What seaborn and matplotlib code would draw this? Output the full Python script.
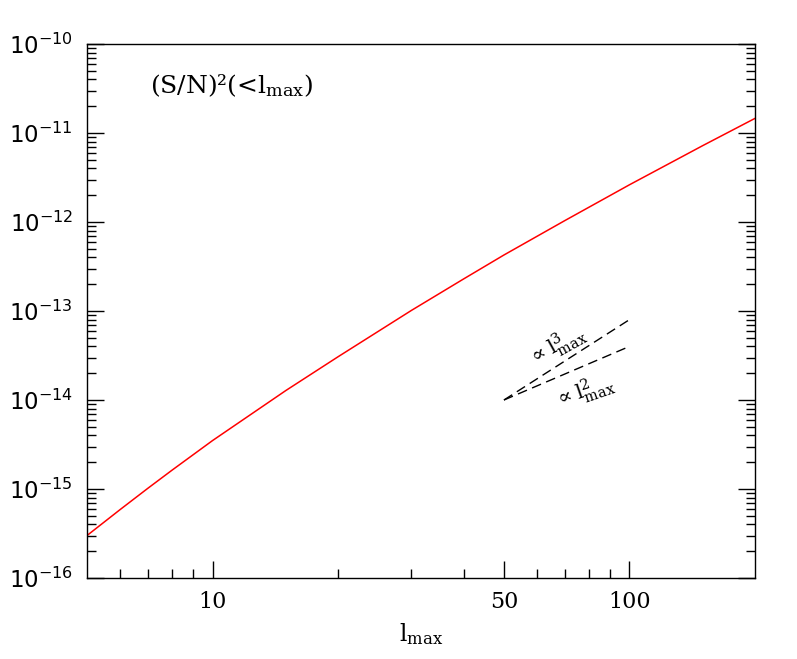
import numpy as np
import pandas as pd
import matplotlib
matplotlib.use('Agg')
import matplotlib.pyplot as plt
import seaborn as sns
from matplotlib.ticker import FixedLocator, FixedFormatter, NullFormatter, LogLocator

# ---- data ----
ell = [5, 6, 7, 8, 10, 15, 20, 30, 40, 50, 70, 100, 150, 200]
snr2 = [3.0e-16, 5.86e-16, 1.02e-15, 1.63e-15, 3.50e-15, 1.28e-14, 3.06e-14,
        1.016e-13, 2.29e-13, 4.26e-13, 1.038e-12, 2.62e-12, 7.23e-12, 1.46e-11]
ref_ell = [50, 100]
ref_l3 = [1e-14, 8e-14]
ref_l2 = [1e-14, 4e-14]
xticks = [10, 50, 100]
xtick_labels = ['10', '50', '100']
xminor = [6, 7, 8, 9, 20, 30, 40, 60, 70, 80, 90]
yticks = [1e-16, 1e-15, 1e-14, 1e-13, 1e-12, 1e-11, 1e-10]
ytick_labels = [r'$10^{-16}$', r'$10^{-15}$', r'$10^{-14}$', r'$10^{-13}$',
                r'$10^{-12}$', r'$10^{-11}$', r'$10^{-10}$']

sns.set_style('ticks')
plt.rcParams['font.family'] = ['DejaVu Serif']
plt.rcParams['axes.linewidth'] = 1.0
plt.rcParams['text.color'] = 'black'
plt.rcParams['axes.labelcolor'] = 'black'
plt.rcParams['xtick.color'] = 'black'
plt.rcParams['ytick.color'] = 'black'
plt.rcParams['axes.edgecolor'] = 'black'

fig = plt.figure(figsize=(7.97, 6.59), dpi=100)
ax = fig.add_axes([87/797, 81/659, 668/797, 534/659])

df = pd.DataFrame({'ell': ell, 'snr2': snr2})
sns.lineplot(data=df, x='ell', y='snr2', ax=ax, color='#ff0000', lw=1.1)

df3 = pd.DataFrame({'ell': ref_ell, 'v': ref_l3})
df2 = pd.DataFrame({'ell': ref_ell, 'v': ref_l2})
sns.lineplot(data=df3, x='ell', y='v', ax=ax, color='black', lw=1.0)
sns.lineplot(data=df2, x='ell', y='v', ax=ax, color='black', lw=1.0)
for ln in ax.lines[1:]:
    ln.set_linestyle((0, (7, 4)))

ax.set_xscale('log')
ax.set_yscale('log')
ax.set_xlim(5, 200)
ax.set_ylim(1e-16, 1e-10)

ax.xaxis.set_major_locator(FixedLocator(xticks))
ax.xaxis.set_major_formatter(FixedFormatter(xtick_labels))
ax.xaxis.set_minor_locator(FixedLocator(xminor))
ax.xaxis.set_minor_formatter(NullFormatter())
ax.yaxis.set_major_locator(FixedLocator(yticks))
ax.yaxis.set_major_formatter(FixedFormatter(ytick_labels))
ax.yaxis.set_minor_locator(LogLocator(base=10, subs=np.arange(2, 10), numticks=20))
ax.yaxis.set_minor_formatter(NullFormatter())

ax.tick_params(axis='both', which='both', direction='in', color='black', width=1.0,
               labelcolor='black')
ax.tick_params(axis='x', which='major', length=12, pad=9, labelsize=16, top=False, bottom=True)
ax.tick_params(axis='x', which='minor', length=6.5, top=False, bottom=True)
ax.tick_params(axis='y', which='major', length=12, pad=10, labelsize=16.5, left=True, right=True)
ax.tick_params(axis='y', which='minor', length=6.5, left=True, right=True)
for lab in ax.get_xticklabels():
    lab.set_fontfamily('DejaVu Serif')
for lab in ax.get_yticklabels():
    lab.set_fontfamily('Liberation Sans')
    lab.set_math_fontfamily('dejavusans')

for s in ax.spines.values():
    s.set_color('black')
    s.set_linewidth(1.0)

ax.set_xlabel(r'l$_{\rm max}$', fontsize=17, math_fontfamily='dejavuserif', labelpad=6,
              color='black')
ax.set_ylabel('')

ax.text(0.094, 0.908, r'(S/N)²(<l$_{\rm max}$)', transform=ax.transAxes,
        fontsize=18, ha='left', va='baseline', math_fontfamily='dejavuserif', color='black')
ax.text(0.704, 0.436, r'$\propto \mathrm{l}^{3}_{\mathrm{max}}$', transform=ax.transAxes,
        fontsize=15, ha='center', va='center', rotation=29, rotation_mode='anchor',
        math_fontfamily='dejavuserif', color='black')
ax.text(0.745, 0.350, r'$\propto \mathrm{l}^{2}_{\mathrm{max}}$', transform=ax.transAxes,
        fontsize=15, ha='center', va='center', rotation=19, rotation_mode='anchor',
        math_fontfamily='dejavuserif', color='black')

fig.savefig('out.png', dpi=100, facecolor='white')
